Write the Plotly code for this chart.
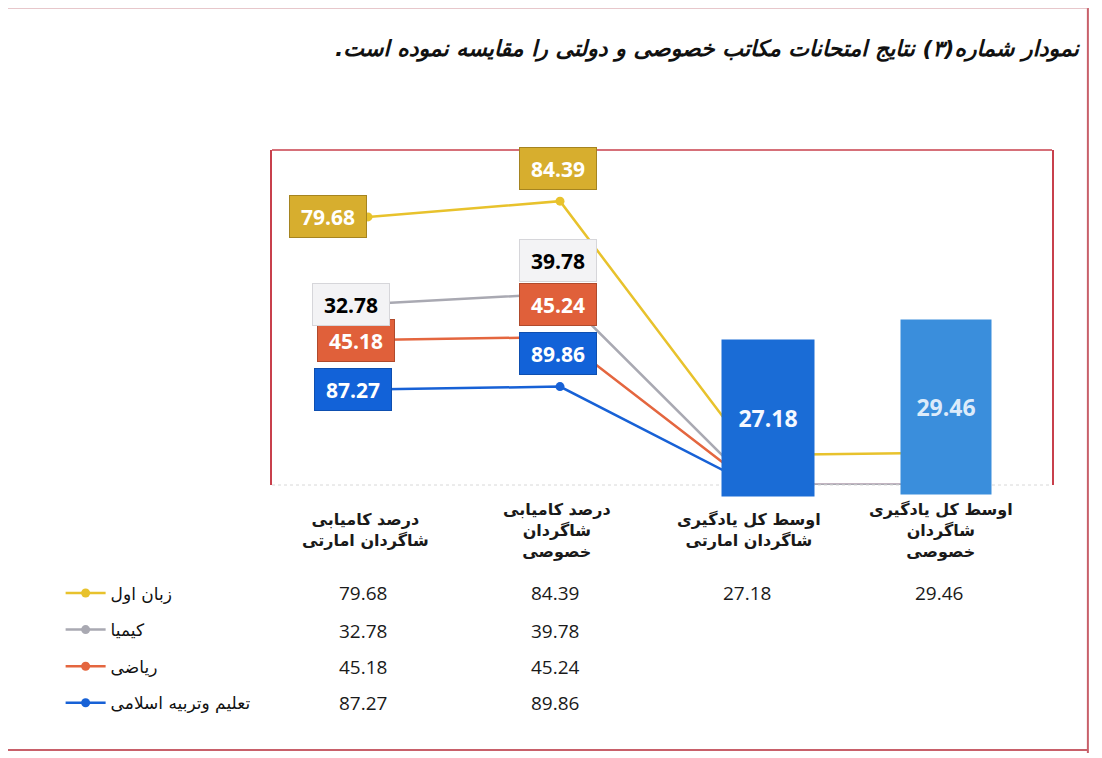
import numpy as np
import plotly.graph_objects as go

# categories along the x axis
categories = [
    'درصد کامیابی<br>شاگردان امارتی',
    'درصد کامیابی<br>شاگردان<br>خصوصی',
    'اوسط کل یادگیری<br>شاگردان امارتی',
    'اوسط کل یادگیری<br>شاگردان<br>خصوصی',
]
cat_keys = ['c1', 'c2', 'c3', 'c4']

# series (bottom of the stack first)
series_names = ['تعلیم وتربیه اسلامی', 'ریاضی', 'کیمیا', 'زبان اول']
islamic = [87.27, 89.86, None, None]
math = [45.18, 45.24, None, None]
chemistry = [32.78, 39.78, None, None]
first_lang = [79.68, 84.39, 27.18, 29.46]

title_text = 'نمودار شماره(۳) نتایج امتحانات مکاتب خصوصی و دولتی را مقایسه نموده است.'

series = [islamic, math, chemistry, first_lang]

style = {
    'تعلیم وتربیه اسلامی': dict(line='#1761D6', box='#1262D8', border='#0E4FB0', text='white', shift1=-15),
    'ریاضی': dict(line='#E4663F', box='#E0603A', border='#B04A2C', text='white', shift1=-12),
    'کیمیا': dict(line='#A9A9B2', box='#F3F3F5', border='#D6D6DA', text='black', shift1=-17),
    'زبان اول': dict(line='#E8C22C', box='#D7AE2E', border='#A58420', text='white', shift1=-40),
}

NUM_FONT = 'Open Sans'
FA_FONT = 'DejaVu Sans'
RLM = '\u200f'

fig = go.Figure()

plot_vals = [[0 if v is None else v for v in s] for s in series]
stacked = np.cumsum(np.array(plot_vals), axis=0)

for i, (name, vals) in enumerate(zip(series_names, plot_vals)):
    st = style[name]
    fig.add_trace(go.Scatter(
        x=cat_keys, y=vals, name=name, stackgroup='one', fill='none',
        mode='lines+markers', legendgroup=name, legendrank=len(series) - i,
        line=dict(color=st['line'], width=2.5),
        marker=dict(color=st['line'], size=9),
    ))

annotations = []

# data label boxes for the first two categories
for i, name in enumerate(series_names):
    st = style[name]
    for j in range(2):
        v = series[i][j]
        annotations.append(dict(
            x=cat_keys[j], y=stacked[i][j], xref='x', yref='y',
            text='<b>%.2f</b>' % v, showarrow=False,
            font=dict(family=NUM_FONT, size=21, color=st['text']),
            bgcolor=st['box'], bordercolor=st['border'], borderwidth=1,
            width=70, height=35, borderpad=3,
            xshift=st['shift1'] if j == 0 else -2,
            yshift=0 if j == 0 else 33,
        ))

# category labels under the plot
for key, label in zip(cat_keys, categories):
    annotations.append(dict(
        x=key, y=-0.135, xref='x', yref='paper', text='<b>' + label + '</b>',
        showarrow=False, yanchor='middle', xshift=-3,
        font=dict(family=FA_FONT, size=16, color='#1a1a1a'),
    ))

# large labels for the last two categories of the first-language series
big_boxes = [('#1A6CD6', '#F5F8FF', 16, 37, 88, 152), ('#3A8EDC', '#DCEBFA', 2, 46, 86, 170)]
for j, (bg, tc, xs, ys, w, h) in zip([2, 3], big_boxes):
    annotations.append(dict(
        x=cat_keys[j], y=stacked[3][j], xref='x', yref='y',
        text='<b>%.2f</b>' % series[3][j], showarrow=False,
        font=dict(family=NUM_FONT, size=23, color=tc),
        bgcolor=bg, width=w, height=h, borderpad=2,
        xshift=xs, yshift=ys,
    ))

# data table values
row_y = [-0.322, -0.436, -0.543, -0.651]
for r, i in enumerate(range(len(series) - 1, -1, -1)):
    for j, key in enumerate(cat_keys):
        v = series[i][j]
        if v is None:
            continue
        annotations.append(dict(
            x=key, y=row_y[r], xref='x', yref='paper', text='%.2f' % v,
            showarrow=False, yanchor='middle', xshift=-5,
            font=dict(family=NUM_FONT, size=19, color='#1a1a1a'),
        ))

# title
annotations.append(dict(
    x=1.04, y=1.3, xref='paper', yref='paper', xanchor='right', yanchor='middle',
    text='<b><i>' + RLM + title_text + RLM + '</i></b>', showarrow=False,
    font=dict(family=FA_FONT, size=22, color='#111'),
))

shapes = [
    # top edge of the plot frame
    dict(type='line', xref='paper', yref='paper', x0=0, x1=1, y0=1, y1=1,
         line=dict(color='#C8404C', width=1.5)),
    # faint baseline
    dict(type='line', xref='paper', yref='paper', x0=0, x1=1, y0=0, y1=0,
         line=dict(color='#D8D8D8', width=1, dash='dot')),
    # page frame
    dict(type='line', xref='paper', yref='paper', x0=1.046, x1=1.046, y0=-0.8, y1=1.45,
         line=dict(color='#C8606A', width=2)),
    dict(type='line', xref='paper', yref='paper', x0=-0.36, x1=1.046, y0=-0.791, y1=-0.791,
         line=dict(color='#C8606A', width=2)),
    dict(type='line', xref='paper', yref='paper', x0=-0.36, x1=1.046, y0=1.425, y1=1.425,
         line=dict(color='#D09098', width=1.5)),
]

fig.update_layout(
    width=1102, height=758,
    margin=dict(l=264, r=58, t=142, b=281),
    paper_bgcolor='white', plot_bgcolor='white',
    showlegend=True,
    legend=dict(x=-0.271, y=-0.27, xanchor='left', yanchor='top',
                traceorder='grouped', tracegroupgap=11.5,
                font=dict(family=FA_FONT, size=17, color='#111'),
                bgcolor='rgba(0,0,0,0)', itemwidth=40),
    annotations=annotations,
    shapes=shapes,
)
fig.update_xaxes(type='category', categoryorder='array', categoryarray=cat_keys,
                 range=[-0.5, 3.5625], showticklabels=False, showgrid=False,
                 zeroline=False, showline=False, ticks='')
fig.update_yaxes(range=[0, 306], showticklabels=False, showgrid=False,
                 zeroline=False, showline=True, mirror=True,
                 linecolor='#C8404C', linewidth=1.5, ticks='')

fig.write_html("out.html")
